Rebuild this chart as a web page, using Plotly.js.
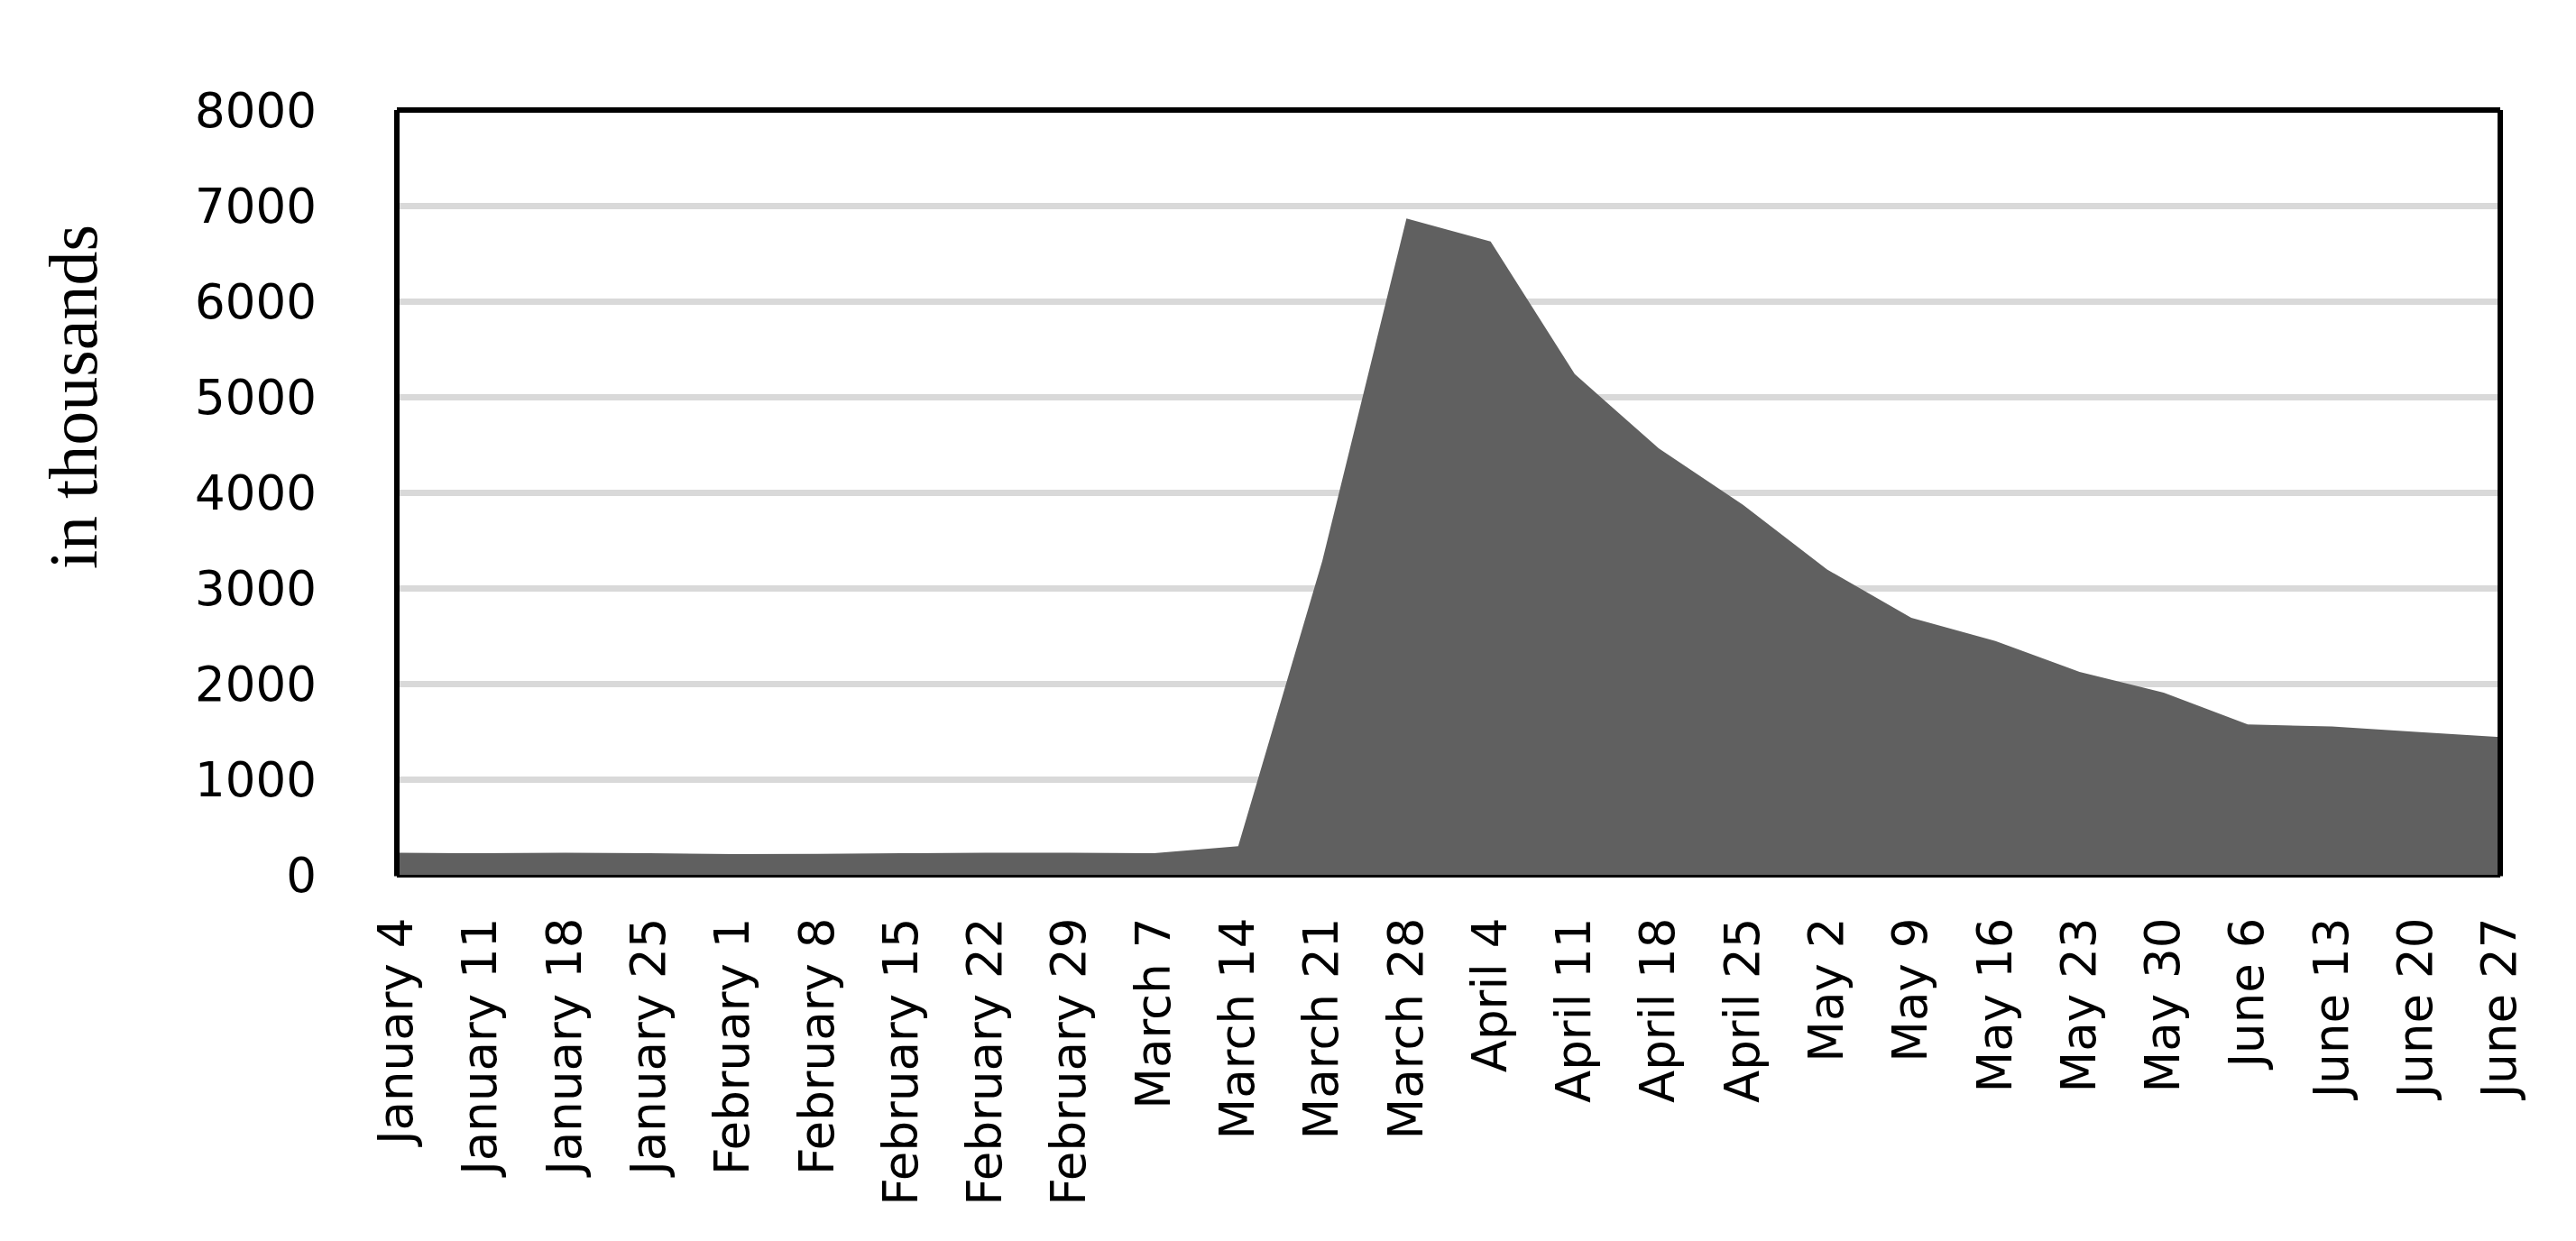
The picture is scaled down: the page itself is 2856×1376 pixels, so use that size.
<!DOCTYPE html>
<html>
<head>
<meta charset="utf-8">
<script src="https://cdn.plot.ly/plotly-3.0.1.min.js"></script>
<style>
  html, body { margin: 0; padding: 0; background: #ffffff; }
  #chart { width: 2856px; height: 1376px; }
</style>
</head>
<body>
<div id="chart"></div>
<script>
// Week-ending dates (categories)
const weeks = [
  "January 4", "January 11", "January 18", "January 25",
  "February 1", "February 8", "February 15", "February 22", "February 29",
  "March 7", "March 14", "March 21", "March 28",
  "April 4", "April 11", "April 18", "April 25",
  "May 2", "May 9", "May 16", "May 23", "May 30",
  "June 6", "June 13", "June 20", "June 27"
];

// Values, in thousands
const claims = [
  230, 226, 231, 227,
  216, 219, 226, 231, 230,
  227, 300, 3285, 6866,
  6624, 5238, 4460, 3870,
  3194, 2689, 2446, 2122, 1906,
  1572, 1552, 1496, 1440
];

// Y axis ticks
const yTicks = [0, 1000, 2000, 3000, 4000, 5000, 6000, 7000, 8000];
const yTitle = "in thousands";

const trace = {
  type: "scatter",
  x: weeks,
  y: claims,
  mode: "none",
  fill: "tozeroy",
  fillcolor: "#606060",
  hoverinfo: "x+y"
};

const plotH = 848; // plot-area height in px, used to convert border offsets
const layout = {
  width: 2856,
  height: 1376,
  margin: { l: 440, r: 84, t: 122, b: 406, pad: 0 },
  paper_bgcolor: "#ffffff",
  plot_bgcolor: "#ffffff",
  showlegend: false,
  xaxis: {
    type: "category",
    categoryorder: "array",
    categoryarray: weeks,
    range: [0, weeks.length - 1],
    tickangle: -90,
    ticks: "",
    showgrid: false,
    zeroline: false,
    showline: false,
    ticklabelstandoff: 36,
    tickfont: { family: "DejaVu Sans", size: 53, color: "#000000" }
  },
  yaxis: {
    range: [0, 8000],
    tickvals: yTicks,
    ticktext: yTicks.map(String),
    ticks: "",
    showgrid: true,
    gridcolor: "#D9D9D9",
    gridwidth: 7,
    zeroline: false,
    showline: false,
    ticklabelstandoff: 88,
    tickfont: { family: "DejaVu Sans", size: 53, color: "#000000" }
  },
  annotations: [
    {
      text: yTitle,
      xref: "paper", yref: "paper",
      x: -0.1539, y: 0.625,
      xanchor: "center", yanchor: "middle",
      textangle: -90,
      showarrow: false,
      font: { family: "Liberation Serif", size: 76, color: "#000000" }
    }
  ],
  shapes: [
    { type: "line", xref: "paper", yref: "paper", x0: 0, x1: 1, y0: 1, y1: 1,
      line: { color: "#000000", width: 6 }, layer: "above" },
    { type: "line", xref: "paper", yref: "paper", x0: 0, x1: 0, y0: -1.5 / plotH, y1: 1,
      line: { color: "#000000", width: 6 }, layer: "above" },
    { type: "line", xref: "paper", yref: "paper", x0: 1, x1: 1, y0: -1.5 / plotH, y1: 1,
      line: { color: "#000000", width: 6 }, layer: "above" },
    { type: "line", xref: "paper", yref: "paper", x0: 0, x1: 1, y0: -1.5 / plotH, y1: -1.5 / plotH,
      line: { color: "#000000", width: 3 }, layer: "above" }
  ]
};

Plotly.newPlot("chart", [trace], layout, { displayModeBar: false, staticPlot: true });
</script>
</body>
</html>
